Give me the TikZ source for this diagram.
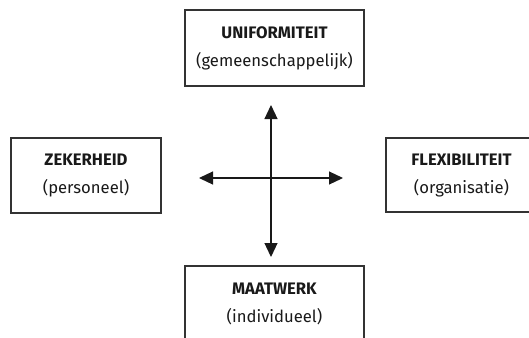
\documentclass[tikz,border=0pt]{standalone}
\usepackage{fontspec}
\setmainfont{Fira Sans}
\usetikzlibrary{arrows.meta}
\begin{document}
\begin{tikzpicture}[x=0.75pt,y=-0.75pt,
  box/.style={draw=black!80, line width=1pt, rectangle, inner sep=0pt,
    align=center, text=black!90, font=\fontsize{12.5}{21}\selectfont},
  conn/.style={line width=0.9pt, black!90,
    {Triangle[length=10.5pt,width=9.75pt]}-{Triangle[length=10.5pt,width=9.75pt]}}]
\useasboundingbox (0,0) rectangle (529,337);
\clip (0,0) rectangle (529,337);
\node[box, minimum width={179*0.75pt}, minimum height={76*0.75pt}] (top) at (274.5,48)
  {\textbf{UNIFORMITEIT}\\(gemeenschappelijk)};
\node[box, minimum width={150*0.75pt}, minimum height={75*0.75pt}] (left) at (86,175.5)
  {\textbf{ZEKERHEID}\\(personeel)};
\node[box, minimum width={151*0.75pt}, minimum height={74*0.75pt}] (right) at (461.5,175)
  {\textbf{FLEXIBILITEIT}\\(organisatie)};
\node[box, minimum width={179*0.75pt}, minimum height={75*0.75pt}] (bottom) at (274.5,303.5)
  {\textbf{MAATWERK}\\(individueel)};
\coordinate (vt) at (271,105);
\coordinate (vb) at (271,257);
\coordinate (hl) at (199,178);
\coordinate (hr) at (343,178);
\draw[conn] (vt) -- (vb);
\draw[conn] (hl) -- (hr);
\end{tikzpicture}
\end{document}
